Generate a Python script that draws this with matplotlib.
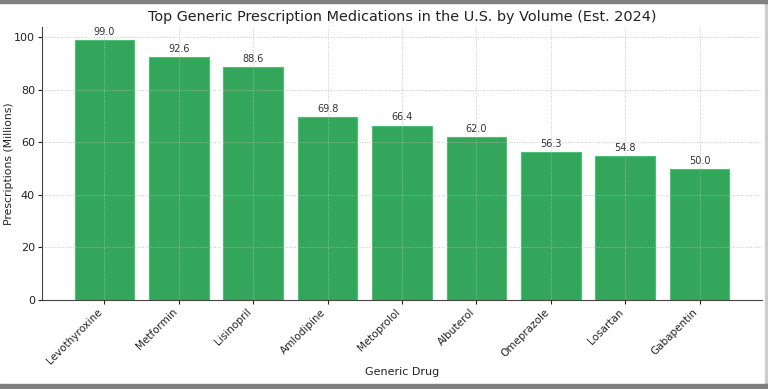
import matplotlib
matplotlib.use("Agg")
import matplotlib.pyplot as plt
from matplotlib.patches import Rectangle

# drugs and estimated prescription volume (millions)
drugs = ['Levothyroxine', 'Metformin', 'Lisinopril', 'Amlodipine', 'Metoprolol',
         'Albuterol', 'Omeprazole', 'Losartan', 'Gabapentin']
volumes = [99.0, 92.6, 88.6, 69.8, 66.4, 62.0, 56.3, 54.8, 50.0]

fig = plt.figure(figsize=(7.68, 3.89), dpi=100)
ax = fig.add_axes([42 / 768, 1 - 300 / 389, 720 / 768, 273 / 389])

bars = ax.bar(drugs, volumes, color='#34a65c', edgecolor='#4cc077', linewidth=0.8, width=0.8)

# value labels on top of each bar
for b, v in zip(bars, volumes):
    ax.text(b.get_x() + b.get_width() / 2, v + 1.2, f"{v:.1f}",
            ha='center', va='bottom', fontsize=7, color='#333333')

ax.set_title("Top Generic Prescription Medications in the U.S. by Volume (Est. 2024)",
             fontsize=10.4, color='#222222', pad=4)
ax.set_xlabel("Generic Drug", fontsize=8, color='#222222', labelpad=1)
ax.set_ylabel("Prescriptions (Millions)", fontsize=7.8, color='#222222')
ax.yaxis.set_label_coords(-0.039, 0.5)
ax.tick_params(axis='both', colors='#222222', length=3, pad=2)
ax.tick_params(axis='y', labelsize=8)
ax.tick_params(axis='x', labelsize=7.5)
plt.setp(ax.get_xticklabels(), rotation=45, ha='right')

ax.grid(True, linestyle=':', color='#bbbbbb', linewidth=0.7, alpha=0.8)
ax.set_axisbelow(False)
for s in ['top', 'right']:
    ax.spines[s].set_visible(False)
for s in ['left', 'bottom']:
    ax.spines[s].set_color('#444444')

# gray frame bands like the screenshot
fig.patches.append(Rectangle((0, 1 - 3 / 389), 1, 3 / 389, transform=fig.transFigure,
                             color='#808080', zorder=10))
fig.patches.append(Rectangle((0, 0), 1, 5 / 389, transform=fig.transFigure,
                             color='#808080', zorder=10))
fig.patches.append(Rectangle((765 / 768, 0), 2 / 768, 1, transform=fig.transFigure,
                             color='#cccccc', zorder=9))

fig.savefig("out.png", dpi=100)
